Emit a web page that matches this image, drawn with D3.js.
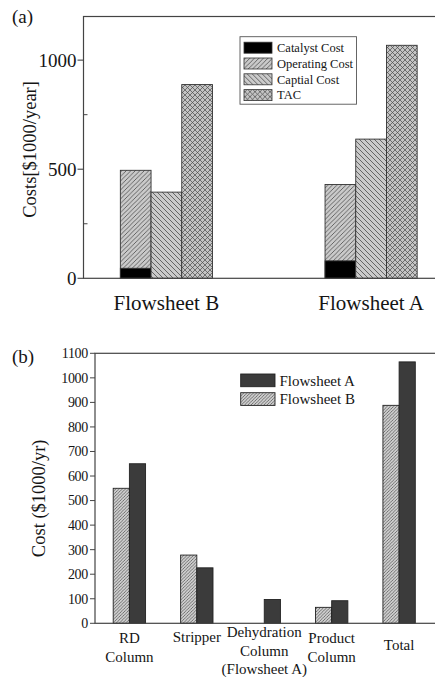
<!DOCTYPE html>
<html>
<head>
<meta charset="utf-8">
<script src="https://cdn.jsdelivr.net/npm/d3@7"></script>
<style>
  body { margin: 0; background: #fff; }
  svg text { font-family: "Times New Roman", "Liberation Serif", Times, serif; }
</style>
</head>
<body>
<svg width="435" height="677"></svg>
<script>
// panel (a) data
var groupsA = ["Flowsheet B", "Flowsheet A"];
var seriesA = ["Catalyst Cost", "Operating Cost", "Captial Cost", "TAC"];
var catalystCost = [46, 80];
var operatingCost = [495, 430];   // includes catalyst part drawn at bottom
var capitalCost = [395, 638];
var tacCost = [888, 1068];
var ticksA = [0, 500, 1000];
var minorTicksA = [250, 750];

// panel (b) data
var units = ["RD Column", "Stripper", "Dehydration Column (Flowsheet A)", "Product Column", "Total"];
var unitLines = [["RD", "Column"], ["Stripper"], ["Dehydration", "Column", "(Flowsheet A)"], ["Product", "Column"], ["Total"]];
var flowsheetA = [650, 226, 97, 92, 1065];
var flowsheetB = [550, 278, 0, 65, 888];
var ticksB = [0, 100, 200, 300, 400, 500, 600, 700, 800, 900, 1000, 1100];

var svg = d3.select("svg");
var defs = svg.append("defs");

function hatch(id, size, paths, bg, lw) {
  var p = defs.append("pattern")
    .attr("id", id)
    .attr("patternUnits", "userSpaceOnUse")
    .attr("width", size).attr("height", size);
  p.append("rect").attr("width", size).attr("height", size).attr("fill", bg);
  paths.forEach(function(d) {
    p.append("path").attr("d", d).attr("stroke", "#4a4a4a")
      .attr("stroke-width", lw).attr("fill", "none");
  });
}
var s = 4.5;
hatch("fwd", s, ["M0," + s + "L" + s + ",0", "M-1,1L1,-1", "M" + (s-1) + "," + (s+1) + "L" + (s+1) + "," + (s-1)], "#cacaca", 0.8);
hatch("back", 5, ["M0,0L5,5", "M-1,4L1,6", "M4,-1L6,1"], "#cacaca", 0.8);
hatch("cross", 5, ["M0,0L5,5", "M0,5L5,0"], "#c4c4c4", 0.7);
var s2 = 3.2;
hatch("fwdB", s2, ["M0," + s2 + "L" + s2 + ",0", "M-1,1L1,-1", "M" + (s2-1) + "," + (s2+1) + "L" + (s2+1) + "," + (s2-1)], "#cecece", 0.7);

var fillsA = {"Catalyst Cost": "#000", "Operating Cost": "url(#fwd)", "Captial Cost": "url(#back)", "TAC": "url(#cross)"};
var ink = "#151515";

// ---------- panel (a) ----------
var leftA = 83.5, topA = 16.5, bottomA = 278.3, rightA = 437;
var yA = d3.scaleLinear().domain([0, 1200]).range([bottomA, topA]);
var xA = d3.scaleBand().domain(groupsA).range([leftA, 454]).paddingInner(0.55).paddingOuter(0.18);
var subA = d3.scaleBand().domain(["op", "cap", "tac"]).range([0, xA.bandwidth()]);

var gA = svg.append("g");
var barsA = [];
groupsA.forEach(function(g, i) {
  barsA.push({g: g, k: "op", v0: 0, v1: operatingCost[i], fill: fillsA["Operating Cost"]});
  barsA.push({g: g, k: "op", v0: 0, v1: catalystCost[i], fill: fillsA["Catalyst Cost"]});
  barsA.push({g: g, k: "cap", v0: 0, v1: capitalCost[i], fill: fillsA["Captial Cost"]});
  barsA.push({g: g, k: "tac", v0: 0, v1: tacCost[i], fill: fillsA["TAC"]});
});
gA.selectAll("rect.bar").data(barsA).enter().append("rect")
  .attr("class", "bar")
  .attr("x", d => xA(d.g) + subA(d.k))
  .attr("width", subA.bandwidth())
  .attr("y", d => yA(d.v1))
  .attr("height", d => yA(d.v0) - yA(d.v1))
  .attr("fill", d => d.fill)
  .attr("stroke", "#333").attr("stroke-width", 0.9);

gA.append("rect").attr("x", leftA).attr("y", topA)
  .attr("width", rightA - leftA).attr("height", bottomA - topA)
  .attr("fill", "none").attr("stroke", "#444").attr("stroke-width", 1.2);

gA.selectAll("line.major").data(ticksA).enter().append("line")
  .attr("x1", leftA - 6).attr("x2", leftA)
  .attr("y1", d => yA(d)).attr("y2", d => yA(d))
  .attr("stroke", "#444").attr("stroke-width", 1.1);
gA.selectAll("line.minor").data(minorTicksA).enter().append("line")
  .attr("x1", leftA).attr("x2", leftA + 4)
  .attr("y1", d => yA(d)).attr("y2", d => yA(d))
  .attr("stroke", "#444").attr("stroke-width", 1);
gA.selectAll("text.tick").data(ticksA).enter().append("text")
  .attr("x", leftA - 7).attr("y", d => yA(d)).attr("dy", "0.35em")
  .attr("text-anchor", "end").attr("font-size", 19).attr("fill", ink)
  .text(d => d);
gA.selectAll("text.cat").data(groupsA).enter().append("text")
  .attr("x", d => xA(d) + xA.bandwidth() / 2).attr("y", 310)
  .attr("text-anchor", "middle").attr("font-size", 21).attr("fill", ink)
  .text(d => d);
gA.append("text")
  .attr("transform", "translate(36," + ((topA + bottomA) / 2 + 2) + ") rotate(-90)")
  .attr("text-anchor", "middle").attr("font-size", 18.5).attr("fill", ink)
  .text("Costs[$1000/year]");
gA.append("text").attr("x", 12).attr("y", 23).attr("font-size", 19).attr("fill", ink).text("(a)");

// legend (a)
var legA = gA.append("g").attr("transform", "translate(240,36.7)");
legA.append("rect").attr("width", 116.5).attr("height", 67.5)
  .attr("fill", "#fff").attr("stroke", "#555").attr("stroke-width", 0.9);
seriesA.forEach(function(name, i) {
  legA.append("rect").attr("x", 4).attr("y", 5.5 + i * 15.8)
    .attr("width", 28).attr("height", 11)
    .attr("fill", fillsA[name]).attr("stroke", "#333").attr("stroke-width", 0.8);
  legA.append("text").attr("x", 37).attr("y", 11 + i * 15.8).attr("dy", "0.35em")
    .attr("font-size", 12.5).attr("fill", ink).text(name);
});

// ---------- panel (b) ----------
var leftB = 95, topB = 353.3, bottomB = 623.3, rightB = 437;
var yB = d3.scaleLinear().domain([0, 1100]).range([bottomB, topB]);
var xB = d3.scaleBand().domain(units).range([leftB, 433.5]).paddingInner(0.52).paddingOuter(0.27);
var subB = d3.scaleBand().domain(["B", "A"]).range([0, xB.bandwidth()]);

var gB = svg.append("g");
var barsB = [];
units.forEach(function(u, i) {
  if (flowsheetB[i] > 0) barsB.push({u: u, k: "B", v: flowsheetB[i]});
  barsB.push({u: u, k: "A", v: flowsheetA[i]});
});
gB.selectAll("rect.bar").data(barsB).enter().append("rect")
  .attr("class", "bar")
  .attr("x", d => xB(d.u) + subB(d.k))
  .attr("width", subB.bandwidth())
  .attr("y", d => yB(d.v))
  .attr("height", d => yB(0) - yB(d.v))
  .attr("fill", d => d.k == "A" ? "#3b3b3b" : "url(#fwdB)")
  .attr("stroke", "#222").attr("stroke-width", 0.9);

gB.append("rect").attr("x", leftB).attr("y", topB)
  .attr("width", rightB - leftB).attr("height", bottomB - topB)
  .attr("fill", "none").attr("stroke", "#444").attr("stroke-width", 1.2);
gB.selectAll("line.major").data(ticksB).enter().append("line")
  .attr("x1", leftB - 5).attr("x2", leftB)
  .attr("y1", d => yB(d)).attr("y2", d => yB(d))
  .attr("stroke", "#444").attr("stroke-width", 1);
gB.selectAll("text.tick").data(ticksB).enter().append("text")
  .attr("x", leftB - 7).attr("y", d => yB(d)).attr("dy", "0.35em")
  .attr("text-anchor", "end").attr("font-size", 14).attr("letter-spacing", -0.3).attr("fill", ink)
  .text(d => d);

var cats = gB.selectAll("text.cat").data(units).enter().append("text")
  .attr("text-anchor", "middle").attr("font-size", 15).attr("fill", ink)
  .attr("transform", (d, i) => {
    var n = unitLines[i].length;
    var y0 = n == 1 ? (d == "Total" ? 645 : 637) : (n == 2 ? 638 : 632);
    return "translate(" + (xB(d) + xB.bandwidth() / 2) + "," + y0 + ")";
  });
cats.selectAll("tspan").data((d, i) => unitLines[i]).enter().append("tspan")
  .attr("x", 0).attr("y", (d, j) => j * 18.5).attr("dy", "0.35em")
  .text(d => d);

gB.append("text")
  .attr("transform", "translate(45," + ((topB + bottomB) / 2 + 10) + ") rotate(-90)")
  .attr("text-anchor", "middle").attr("font-size", 18.5).attr("fill", ink)
  .text("Cost ($1000/yr)");
gB.append("text").attr("x", 12).attr("y", 363).attr("font-size", 19).attr("fill", ink).text("(b)");

// legend (b)
var legB = [{name: "Flowsheet A", fill: "#3b3b3b"}, {name: "Flowsheet B", fill: "url(#fwdB)"}];
legB.forEach(function(d, i) {
  gB.append("rect").attr("x", 240.7).attr("y", 374 + i * 18.7)
    .attr("width", 34.3).attr("height", 12.7)
    .attr("fill", d.fill).attr("stroke", "#222").attr("stroke-width", 0.9);
  gB.append("text").attr("x", 279.5).attr("y", 380.5 + i * 18.7).attr("dy", "0.35em")
    .attr("font-size", 15).attr("fill", ink).text(d.name);
});
</script>
</body>
</html>
